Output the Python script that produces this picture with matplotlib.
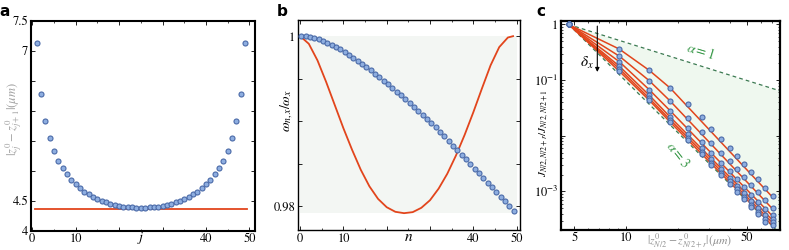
import numpy as np
import matplotlib
matplotlib.use("Agg")
import matplotlib.pyplot as plt
from matplotlib.ticker import FixedLocator, NullFormatter

plt.rcParams['font.family'] = 'STIXGeneral'
plt.rcParams['mathtext.fontset'] = 'stix'

# ---- panel a: ion spacings ----
j_idx = np.arange(1, 50)
half_spacing = [7.133, 6.273, 5.828, 5.54, 5.328, 5.162, 5.04, 4.94, 4.845, 4.773,
                4.707, 4.65, 4.607, 4.567, 4.528, 4.495, 4.473, 4.445, 4.428, 4.412,
                4.40, 4.395, 4.39, 4.386, 4.385]
spacing = half_spacing + half_spacing[-2::-1]
uniform_x = [0.6, 49.4]
uniform_val = [4.368, 4.368]

# ---- panel b: mode frequencies ----
n_modes = np.arange(50) + 0.3
omega_pts = [1.0, 0.99996, 0.99988, 0.99977, 0.99961, 0.99942, 0.99922, 0.99899, 0.99871, 0.99844,
             0.99813, 0.99782, 0.99747, 0.99712, 0.99676, 0.99637, 0.99598, 0.99559, 0.99520, 0.99478,
             0.99435, 0.99392, 0.99349, 0.99306, 0.99259, 0.99212, 0.99165, 0.99119, 0.99072, 0.99025,
             0.98979, 0.98932, 0.98877, 0.98823, 0.98768, 0.98713, 0.98659, 0.98604, 0.98550, 0.98495,
             0.98441, 0.98386, 0.98331, 0.98277, 0.98222, 0.98168, 0.98113, 0.98058, 0.98004, 0.97949]
n_curve = [0, 2, 4, 6, 8, 10, 12, 14, 16, 18, 20, 22, 24, 26, 28, 30, 32, 34, 36, 38,
           40, 42, 44, 46, 48, 49.2]
omega_curve = [1.0, 0.99910, 0.99715, 0.99462, 0.99189, 0.98916, 0.98663, 0.98429, 0.98234, 0.98086,
               0.97988, 0.97934, 0.97918, 0.97930, 0.97981, 0.98070, 0.98207, 0.98382, 0.98596, 0.98838,
               0.99103, 0.99384, 0.99657, 0.99871, 0.99984, 1.0]

# ---- panel c: couplings vs distance (log10 of J ratio) ----
dist = [4.64, 9.11, 13.58, 17.96, 22.8, 27.4, 31.0, 35.4, 39.7, 43.8, 48.1, 53.1, 57.9, 63.6, 71.2]
logJ = [
    [0, -0.441, -0.823, -1.141, -1.423, -1.670, -1.879, -2.054, -2.216, -2.360, -2.505, -2.649, -2.775, -2.937, -3.081],
    [0, -0.568, -1.009, -1.375, -1.681, -1.933, -2.126, -2.306, -2.459, -2.604, -2.739, -2.883, -3.009, -3.153, -3.297],
    [0, -0.667, -1.171, -1.550, -1.861, -2.108, -2.306, -2.486, -2.640, -2.784, -2.919, -3.063, -3.189, -3.324, -3.423],
    [0, -0.748, -1.270, -1.663, -1.973, -2.225, -2.423, -2.604, -2.757, -2.901, -3.036, -3.180, -3.306, -3.432, -3.495],
    [0, -0.793, -1.324, -1.712, -2.036, -2.288, -2.486, -2.667, -2.820, -2.964, -3.099, -3.243, -3.369, -3.495, -3.550],
    [0, -0.838, -1.360, -1.753, -2.081, -2.333, -2.532, -2.712, -2.865, -3.009, -3.144, -3.288, -3.414, -3.541, -3.595],
]
fit_dist = [4.64, 9.11, 13.58, 17.96, 71.2]
fit_logJ = [
    [0, -0.441, -0.823, -1.141, -3.12],
    [0, -0.568, -1.009, -1.375, -3.33],
    [0, -0.667, -1.171, -1.550, -3.46],
    [0, -0.748, -1.270, -1.663, -3.53],
    [0, -0.793, -1.324, -1.712, -3.58],
    [0, -0.838, -1.360, -1.753, -3.63],
]
alpha_x = [4.64, 77.2]
alpha1_logJ = [0, -1.19]
alpha3_logJ = [0, -3.75]

BLUE_FACE = '#8eaee0'
BLUE_EDGE = '#4a6aa8'
RED = '#e2451c'
GREEN = '#3c7a52'

fig = plt.figure(figsize=(7.89, 2.5), dpi=100)


def style_frame(ax, lw):
    for s in ax.spines.values():
        s.set_linewidth(lw)
    ax.tick_params(which='both', direction='in', top=True, right=True, labelsize=9, pad=2)
    ax.tick_params(which='major', length=3, width=0.6)
    ax.tick_params(which='minor', length=1.5, width=0.5)


# panel a
ax1 = fig.add_axes([31 / 789, 19.3 / 250, 224 / 789, 210 / 250])
ax1.plot(uniform_x, uniform_val, color=RED, lw=1.3, zorder=2)
ax1.plot(j_idx, spacing, 'o', ms=3.6, mfc=BLUE_FACE, mec=BLUE_EDGE, mew=0.8, zorder=3)
ax1.set_xlim(-0.3, 51.3)
ax1.set_ylim(4, 7.5)
ax1.set_xticks([0, 10, 20, 30, 40, 50])
ax1.set_xticklabels(['0', '10', '', '', '40', '50'])
ax1.xaxis.set_minor_locator(FixedLocator([5, 15, 25, 35, 45]))
ax1.set_yticks([4, 4.5, 5, 5.5, 6, 6.5, 7, 7.5])
ax1.set_yticklabels(['4', '4.5', '', '', '', '', '7', '7.5'])
style_frame(ax1, 1.5)
ax1.text(25, -0.036, '$j$', transform=ax1.get_xaxis_transform(), ha='center', va='center', fontsize=10)
ax1.text(-0.075, 0.53, r'$|z^0_j - z^0_{j+1}|(\mu m)$', transform=ax1.transAxes,
         rotation=90, ha='center', va='center', fontsize=9, color='#a0a0a0')

# panel b
ax2 = fig.add_axes([298 / 789, 20 / 250, 222 / 789, 210 / 250])
ax2.fill_between([0, 50], 0.9792, 1.0, color='#f3f6f3', lw=0, zorder=0)
ax2.plot(n_curve, omega_curve, color=RED, lw=1.3, zorder=2)
ax2.plot(n_modes, omega_pts, 'o', ms=3.6, mfc=BLUE_FACE, mec=BLUE_EDGE, mew=0.8, zorder=3)
ax2.set_xlim(-0.5, 50.8)
ax2.set_ylim(0.9772, 1.0019)
ax2.set_xticks([0, 10, 20, 30, 40, 50])
ax2.set_xticklabels(['0', '10', '', '', '40', '50'])
ax2.xaxis.set_minor_locator(FixedLocator([5, 15, 25, 35, 45]))
ax2.set_yticks([0.98, 0.985, 0.99, 0.995, 1.0])
ax2.set_yticklabels(['0.98', '', '', '', '1'])
style_frame(ax2, 1.0)
ax2.text(25, -0.034, '$n$', transform=ax2.get_xaxis_transform(), ha='center', va='center', fontsize=11)
ax2.text(-0.05, 0.57, r'$\omega_{n,x}/\omega_x$', transform=ax2.transAxes,
         rotation=90, ha='center', va='center', fontsize=10)

# panel c
ax3 = fig.add_axes([561 / 789, 20.5 / 250, 218.5 / 789, 209 / 250])
ax3.set_xscale('log')
ax3.set_yscale('log')
a1 = 10.0 ** np.array(alpha1_logJ)
a3 = 10.0 ** np.array(alpha3_logJ)
ax3.fill_between(alpha_x, a3, a1, color='#eff8ef', lw=0, zorder=0)
ax3.plot(alpha_x, a1, '--', color=GREEN, lw=0.9, dashes=(3, 2.5), zorder=1)
ax3.plot(alpha_x, a3, '--', color=GREEN, lw=0.9, dashes=(3, 2.5), zorder=1)
for row in fit_logJ:
    ax3.plot(fit_dist, 10.0 ** np.array(row), color=RED, lw=1.1, zorder=2)
for row in logJ:
    ax3.plot(dist, 10.0 ** np.array(row), 'o', ms=3.6, mfc=BLUE_FACE, mec=BLUE_EDGE, mew=0.8, zorder=3)
ax3.set_xlim(4.19, 77.2)
ax3.set_ylim(2.07e-4, 1.18)
ax3.xaxis.set_major_locator(FixedLocator([5, 10, 50]))
ax3.set_xticklabels(['5', '10', '50'])
ax3.xaxis.set_minor_locator(FixedLocator([6, 7, 8, 9, 20, 30, 40, 60, 70]))
ax3.xaxis.set_minor_formatter(NullFormatter())
ax3.yaxis.set_major_locator(FixedLocator([1, 1e-1, 1e-2, 1e-3, 1e-4]))
ax3.set_yticklabels(['1', '$10^{-1}$', '', '$10^{-3}$', ''])
ax3.yaxis.set_minor_locator(FixedLocator([m * 10.0 ** e for e in range(-4, 0) for m in range(2, 10)]))
ax3.yaxis.set_minor_formatter(NullFormatter())
style_frame(ax3, 1.6)
ax3.annotate('', xy=(6.8, 0.125), xytext=(6.8, 1.05),
             arrowprops=dict(arrowstyle='-|>', color='k', lw=0.8, mutation_scale=6))
ax3.text(5.95, 0.2, r'$\delta_x$', ha='center', va='center', fontsize=11)
ax3.text(26.8, 0.33, r'$\alpha = 1$', color='#3c9a4c', rotation=-17, ha='center', va='center', fontsize=10)
ax3.text(19.8, 0.0045, r'$\alpha = 3$', color='#3c9a4c', rotation=-52, ha='center', va='center', fontsize=10)
ax3.text(0.59, -0.05, r'$|z^0_{N/2} - z^0_{N/2+r}|(\mu m)$', transform=ax3.transAxes,
         ha='center', va='center', fontsize=8.5, color='#909090')
ax3.text(-0.075, 0.46, r'$J_{N/2,N/2+r}/J_{N/2,N/2+1}$', transform=ax3.transAxes,
         rotation=90, ha='center', va='center', fontsize=8)

for lab, x in [('a', 5), ('b', 282), ('c', 541)]:
    fig.text(x / 789, 1 - 11 / 250, lab, fontsize=11, fontweight='bold',
             family='DejaVu Sans', ha='center', va='center')

fig.savefig('out.png', dpi=100)
